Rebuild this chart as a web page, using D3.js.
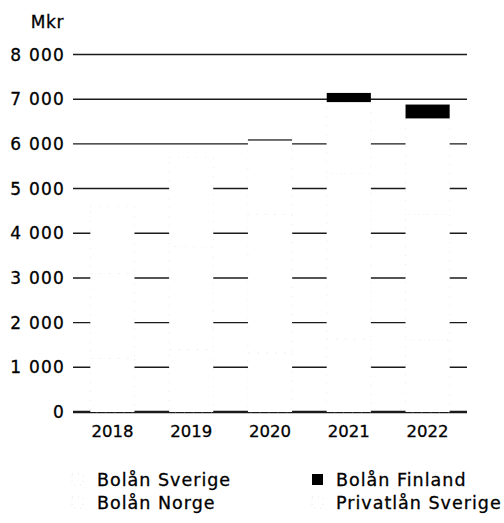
<!DOCTYPE html>
<html>
<head>
<meta charset="utf-8">
<script src="https://cdn.jsdelivr.net/npm/d3@7"></script>
<style>
  body { margin: 0; background: #fff; }
  text { font-family: "DejaVu Sans", sans-serif; fill: #000; stroke: #000; stroke-width: 0.3px; }
</style>
</head>
<body>
<div id="chart"></div>
<script>
  // data (Mkr)
  var years = ["2018", "2019", "2020", "2021", "2022"];
  var privatlanSverige = [1200, 1400, 1325, 1635, 1620];
  var bolanSverige = [1900, 2300, 3100, 3700, 2800];
  var bolanNorge = [1500, 2000, 1650, 1600, 2150];
  var bolanFinland = [0, 0, 25, 205, 310];
  var yTicks = [0, 1000, 2000, 3000, 4000, 5000, 6000, 7000, 8000];
  var legendOrder = ["Bolån Sverige", "Bolån Finland", "Bolån Norge", "Privatlån Sverige"];

  var width = 504,
      height = 523;

  var svg = d3.select("#chart").append("svg")
      .attr("width", width)
      .attr("height", height);

  // stack order bottom -> top
  var keys = ["Privatlån Sverige", "Bolån Sverige", "Bolån Norge", "Bolån Finland"];
  var seriesValues = {
    "Privatlån Sverige": privatlanSverige,
    "Bolån Sverige": bolanSverige,
    "Bolån Norge": bolanNorge,
    "Bolån Finland": bolanFinland
  };
  var fills = {
    "Privatlån Sverige": "#fff",
    "Bolån Sverige": "#fff",
    "Bolån Norge": "#fff",
    "Bolån Finland": "#000"
  };

  var table = years.map(function(y, i) {
    var row = { year: y };
    keys.forEach(function(k) { row[k] = seriesValues[k][i]; });
    return row;
  });

  var stacked = d3.stack().keys(keys)(table);

  var x = d3.scaleBand()
      .domain(years)
      .range([73, 467])
      .paddingInner(0.44)
      .paddingOuter(0.22);

  var y = d3.scaleLinear()
      .domain([0, 8000])
      .range([412, 54.5]);

  var fmt = d3.formatLocale({ decimal: ",", thousands: " ", grouping: [3], currency: ["", " kr"] }).format(",d");

  // gridlines first, the white bars hide them
  var grid = svg.append("g");
  grid.selectAll("line")
      .data(yTicks)
      .enter().append("line")
      .attr("x1", 73)
      .attr("x2", 467)
      .attr("y1", d => y(d))
      .attr("y2", d => y(d))
      .attr("stroke", "#1a1a1a")
      .attr("stroke-width", d => d === 0 ? 2.4 : 1.4);

  grid.selectAll("text")
      .data(yTicks)
      .enter().append("text")
      .attr("x", 65)
      .attr("y", d => y(d))
      .attr("dy", "0.36em")
      .attr("text-anchor", "end")
      .style("font-size", "17px")
      .style("letter-spacing", "1.2px")
      .text(d => fmt(d));

  svg.append("text")
      .attr("x", 64)
      .attr("y", 28)
      .attr("text-anchor", "end")
      .style("font-size", "17px")
      .style("letter-spacing", "0.6px")
      .text("Mkr");

  // bars
  var layers = svg.selectAll(".layer")
      .data(stacked)
      .enter().append("g")
      .attr("class", "layer")
      .attr("fill", d => fills[d.key]);

  layers.selectAll("rect")
      .data(d => d)
      .enter().append("rect")
      .attr("x", d => x(d.data.year))
      .attr("width", x.bandwidth())
      .attr("y", d => y(d[1]))
      .attr("height", d => y(d[0]) - y(d[1]));

  // faint dotted edges like in the picture
  layers.filter(d => d.key !== "Bolån Finland").selectAll("rect")
      .attr("stroke", "#dcdcdc")
      .attr("stroke-width", 0.6)
      .attr("stroke-dasharray", "1 8");

  // year labels
  svg.append("g").selectAll("text")
      .data(years)
      .enter().append("text")
      .attr("x", d => x(d) + x.bandwidth() / 2)
      .attr("y", 437)
      .attr("text-anchor", "middle")
      .style("font-size", "16.5px")
      .text(d => d);

  // legend, two columns
  var legend = svg.append("g").selectAll("g")
      .data(legendOrder)
      .enter().append("g")
      .attr("transform", (d, i) => "translate(" + (i % 2 === 0 ? 72 : 312) + "," + (i < 2 ? 480 : 503) + ")");

  legend.append("rect")
      .attr("x", 0)
      .attr("y", -6)
      .attr("width", 11)
      .attr("height", 11)
      .attr("fill", d => fills[d])
      .attr("stroke", d => d === "Bolån Finland" ? "none" : "#d8d8d8")
      .attr("stroke-width", 0.6)
      .attr("stroke-dasharray", "1 5");

  legend.append("text")
      .attr("x", d => d === "Bolån Finland" || d === "Privatlån Sverige" ? 24 : 25)
      .attr("y", 0)
      .attr("dy", "0.36em")
      .style("font-size", "17.5px")
      .style("letter-spacing", "1px")
      .text(d => d);
</script>
</body>
</html>
